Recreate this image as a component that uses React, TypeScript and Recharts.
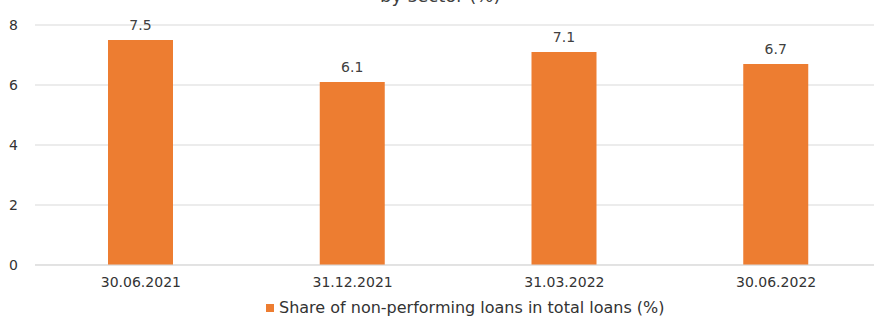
import { BarChart, Bar, XAxis, YAxis, CartesianGrid, LabelList } from "recharts";

// reporting dates and NPL share (%)
const dates = ["30.06.2021", "31.12.2021", "31.03.2022", "30.06.2022"];
const nplShare = [7.5, 6.1, 7.1, 6.7];
const yTicks = [0, 2, 4, 6, 8];

const seriesName = "Share of non-performing loans in total loans (%)";

const data = dates.map((d, i) => ({ date: d, npl: nplShare[i] }));

const FONT = "'DejaVu Sans', sans-serif";

export default function App() {
  return (
    <div
      style={{
        position: "fixed",
        top: 0,
        left: 0,
        width: 874,
        height: 316,
        overflow: "hidden",
        background: "#fff",
      }}
    >
      {/* title mostly cut off above the frame */}
      <div
        style={{
          position: "absolute",
          top: -13,
          left: 380,
          fontFamily: FONT,
          fontSize: 18,
          lineHeight: "18px",
          color: "#404040",
          whiteSpace: "nowrap",
        }}
      >
        by sector (%)
      </div>
      <BarChart width={882} height={316} data={data} margin={{ top: 25, right: 0, bottom: 21, left: 0 }}>
        <CartesianGrid vertical={false} stroke="#d9d9d9" />
        <XAxis
          dataKey="date"
          axisLine={{ stroke: "#d9d9d9" }}
          tickLine={false}
          tick={{ fill: "#333", fontSize: 14, fontFamily: FONT }}
          tickMargin={6}
          height={30}
        />
        <YAxis
          domain={[0, 8]}
          ticks={yTicks}
          width={35}
          axisLine={false}
          tickLine={false}
          tickMargin={11}
          tick={{ fill: "#333", fontSize: 14, fontFamily: FONT }}
        />
        <Bar dataKey="npl" name={seriesName} fill="#ED7D31" barSize={65} isAnimationActive={false}>
          <LabelList dataKey="npl" position="top" offset={10} fill="#404040" fontSize={14} fontFamily={FONT} />
        </Bar>
      </BarChart>
      {/* legend */}
      <div
        style={{
          position: "absolute",
          left: 266,
          top: 299,
          display: "flex",
          alignItems: "center",
          fontFamily: FONT,
          fontSize: 16,
          lineHeight: "18px",
          color: "#333",
          whiteSpace: "nowrap",
        }}
      >
        <span style={{ width: 8, height: 8, background: "#ED7D31", marginRight: 5, display: "inline-block" }} />
        {seriesName}
      </div>
    </div>
  );
}
